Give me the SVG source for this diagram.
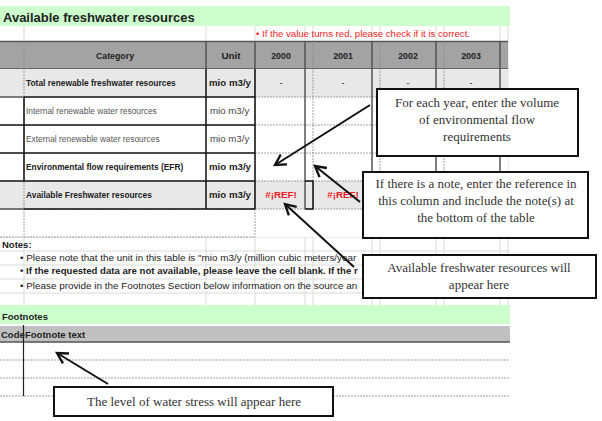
<svg xmlns="http://www.w3.org/2000/svg" width="602" height="421" viewBox="0 0 602 421">
<style>
.s{font-family:"Liberation Sans",Arial,sans-serif;fill:#222}
.b{font-weight:bold}
.c{font-family:"Liberation Serif","Times New Roman",serif;font-size:13px;fill:#333;text-anchor:middle}
.grid{stroke:#d9d9d9;stroke-width:1;fill:none}
.dash{stroke:#888;stroke-width:0.8;stroke-dasharray:2,1;fill:none}
.blk{stroke:#111;stroke-width:1.5;fill:none}
.dk{stroke:#555;stroke-width:1.5;fill:none}
.box{fill:#fff;stroke:#111;stroke-width:2}
.arr{stroke:#111;stroke-width:2;fill:none;marker-end:url(#ah)}
</style>
<defs>
<marker id="ah" markerUnits="userSpaceOnUse" markerWidth="14" markerHeight="14" viewBox="0 0 12 12" refX="10" refY="6" orient="auto">
<path d="M1,1 L10,6 L1,11" fill="none" stroke="#111" stroke-width="2"/>
</marker>
</defs>
<rect width="602" height="421" fill="#fff"/>

<g id="sheet">
<g class="grid">
<path d="M24,26V305M206,26V305M255,26V305M305,26V305M313,26V305M372,26V305M380,26V305M436,26V305M444,26V305M500,26V305M508,26V305"/>
<path d="M0,237H510M0,251H510M0,265H510M0,279H510M0,293H510"/>
</g>
<rect x="0" y="6" width="510" height="20" fill="#ccffcc"/>
<text class="s b" x="3" y="22" font-size="13">Available freshwater resources</text>
<text class="s" x="256" y="37" font-size="9.6" style="fill:#ee1c24">• If the value turns red, please check if it is correct.</text>

<rect x="0" y="41" width="508" height="28" fill="#a3a3a3"/>
<path class="dk" d="M0,41.5H508M0,69H508"/>
<g class="s b" font-size="8.8" text-anchor="middle">
<text x="115" y="59">Category</text>
<text x="231" y="59" font-size="9.8">Unit</text>
<text x="281" y="59">2000</text>
<text x="343" y="59">2001</text>
<text x="408" y="59">2002</text>
<text x="471" y="59">2003</text>
</g>

<rect x="0" y="69" width="508" height="28" fill="#e8e8e8"/>
<rect x="0" y="181" width="508" height="28" fill="#e8e8e8"/>
<rect x="0" y="97" width="508" height="84" fill="#fff"/>
<rect x="0" y="209" width="508" height="28" fill="#fff"/>

<path class="dash" d="M24,41V237M255,41V237M313,41V209M380,41V209M444,41V209M0,209H510M0,237H255M255,97H508M255,125H508M255,153H508M255,181H508"/>
<path class="dk" d="M305,41V209M372,41V209M436,41V209M500,41V209M206,41V69M255,41V69"/>
<path class="blk" d="M24,97H255M0,125H255M0,153H255M0,181H255M24,97V181M206,69V209M255,69V209M24,209H255M206,97V153"/>
<path class="blk" d="M305,181H313V209H305"/>
<path class="dk" stroke="#999" d="M0,97H24M0,209H24"/>

<g class="s" font-size="8.4">
<text class="b" x="26" y="86">Total renewable freshwater resources</text>
<text x="26" y="114" style="fill:#555">Internal renewable water resources</text>
<text x="26" y="142" style="fill:#555">External renewable water resources</text>
<text class="b" x="26" y="170">Environmental flow requirements (EFR)</text>
<text class="b" x="26" y="198">Available Freshwater resources</text>
</g>
<g class="s" font-size="9.7">
<text class="b" x="209" y="86">mio m3/y</text>
<text x="210" y="114" style="fill:#444">mio m3/y</text>
<text x="210" y="142" style="fill:#444">mio m3/y</text>
<text class="b" x="209" y="170">mio m3/y</text>
<text class="b" x="209" y="198">mio m3/y</text>
</g>
<g class="s" font-size="9" text-anchor="middle">
<text x="281" y="86">-</text>
<text x="343" y="86">-</text>
<text x="408" y="86">-</text>
<text x="471" y="86">-</text>
</g>
<g class="s b" font-size="9.8" text-anchor="middle" style="fill:#ee1c24">
<text x="281" y="198">#¡REF!</text>
<text x="343" y="198">#¡REF!</text>
</g>

<text class="s b" x="2" y="248" font-size="9.5">Notes:</text>
<g class="s" font-size="9.9">
<text x="20" y="261">•  Please note that the unit in this table is "mio m3/y (million cubic meters/year</text>
<text class="b" x="20" y="274" font-size="9.6">•  If the requested data are not available, please leave the cell blank. If the r</text>
<text x="20" y="289">•  Please provide in the Footnotes Section below information on the source an</text>
</g>

<rect x="0" y="305" width="510" height="19" fill="#ccffcc"/>
<text class="s b" x="2" y="320" font-size="9.5">Footnotes</text>
<rect x="0" y="326" width="510" height="16" fill="#c0c0c0"/>
<path class="dk" d="M0,342H510"/>
<text class="s b" x="1" y="338" font-size="9.5">Code</text>
<text class="s b" x="25" y="338" font-size="9.5">Footnote text</text>
<path class="dash" d="M0,360H510M0,378H510M0,396H510"/>
<path stroke="#222" stroke-width="1.2" d="M23.5,325V396"/>
</g>

<g id="connectors">
<line class="arr" x1="370" y1="105" x2="275" y2="165"/>
<line class="arr" x1="360" y1="202" x2="315" y2="166"/>
<line class="arr" x1="354" y1="267" x2="285" y2="204"/>
<line class="arr" x1="108" y1="384" x2="57" y2="353"/>
</g>

<g id="callout-efr">
<rect class="box" x="377" y="89" width="201" height="67"/>
<text class="c" x="477" y="107">For each year, enter the volume</text>
<text class="c" x="477" y="124">of environmental flow</text>
<text class="c" x="477" y="141">requirements</text>
</g>
<g id="callout-note">
<rect class="box" x="363" y="172" width="225" height="66"/>
<text class="c" x="476" y="188">If there is a note, enter the reference in</text>
<text class="c" x="476" y="205">this column and include the note(s) at</text>
<text class="c" x="476" y="222">the bottom of the table</text>
</g>
<g id="callout-available">
<rect class="box" x="363" y="255" width="233" height="43"/>
<text class="c" x="479" y="272">Available freshwater resources will</text>
<text class="c" x="479" y="289">appear here</text>
</g>
<g id="callout-stress">
<rect class="box" x="54" y="387" width="279" height="29"/>
<text class="c" x="194" y="406">The level of water stress will appear here</text>
</g>
</svg>
